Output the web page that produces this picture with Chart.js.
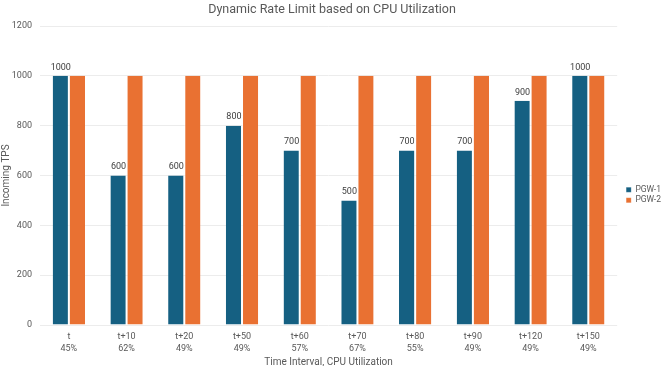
<!DOCTYPE html>
<html>
<head>
<meta charset="utf-8">
<script src="https://cdn.jsdelivr.net/npm/chart.js@4/dist/chart.umd.min.js"></script>
<style>
  html, body { margin: 0; padding: 0; background: #fff; }
  #wrap { width: 664px; height: 366px; position: relative; }
</style>
</head>
<body>
<div id="wrap"><canvas id="rateChart"></canvas></div>
<script>
// --- datos ---
const intervals = ['t', 't+10', 't+20', 't+50', 't+60', 't+70', 't+80', 't+90', 't+120', 't+150'];
const cpuUsage = ['45%', '62%', '49%', '49%', '57%', '67%', '55%', '49%', '49%', '49%'];
const pgw1 = [1000, 600, 600, 800, 700, 500, 700, 700, 900, 1000];
const pgw2 = [1000, 1000, 1000, 1000, 1000, 1000, 1000, 1000, 1000, 1000];
const yTicks = [0, 200, 400, 600, 800, 1000, 1200];

const labels = intervals.map((t, i) => [t, cpuUsage[i]]);
const fontFamily = 'Roboto, "Open Sans", sans-serif';

// etiquetas encima de las barras de PGW-1
const valueLabels = {
    id: 'valueLabels',
    afterDatasetsDraw(chart) {
        const ctx = chart.ctx;
        const meta = chart.getDatasetMeta(0);
        ctx.save();
        ctx.font = '9px ' + fontFamily;
        ctx.fillStyle = '#404040';
        ctx.textAlign = 'center';
        ctx.textBaseline = 'bottom';
        meta.data.forEach((bar, i) => {
            ctx.fillText(String(pgw1[i]), bar.x, bar.y - 4);
        });
        ctx.restore();
    }
};

// mover la leyenda a la derecha y un poco hacia abajo, como en el original
const legendShift = {
    id: 'legendShift',
    afterLayout(chart) {
        const lg = chart.legend;
        if (lg) {
            lg.left += 7; lg.right += 7;
            lg.top += 12; lg.bottom += 12;
        }
    }
};

new Chart(document.getElementById('rateChart'), {
    type: 'bar',
    data: {
        labels: labels,
        datasets: [{
            label: 'PGW-1',
            data: pgw1,
            backgroundColor: '#156082',
            borderColor: 'rgba(255,255,255,0.7)',
            borderWidth: { right: 1, left: 0, top: 0, bottom: 0 },
            borderSkipped: false
        }, {
            label: 'PGW-2',
            data: pgw2,
            backgroundColor: '#E97132',
            borderColor: 'rgba(255,255,255,0.7)',
            borderWidth: { left: 1, right: 0, top: 0, bottom: 0 },
            borderSkipped: false
        }]
    },
    options: {
        responsive: true,
        maintainAspectRatio: false,
        animation: false,
        layout: { padding: { top: 0, right: 0, bottom: 0, left: 0 } },
        categoryPercentage: 0.56,
        barPercentage: 1,
        plugins: {
            title: {
                display: true,
                text: 'Dynamic Rate Limit based on CPU Utilization',
                color: '#595959',
                font: { family: fontFamily, size: 12.5, weight: 'normal' },
                padding: { top: 2, bottom: 9 }
            },
            legend: {
                position: 'right',
                align: 'center',
                labels: {
                    boxWidth: 5,
                    boxHeight: 5,
                    padding: 2,
                    color: '#595959',
                    font: { family: fontFamily, size: 8.5 }
                }
            },
            tooltip: { enabled: false }
        },
        scales: {
            x: {
                grid: { display: false, drawTicks: false },
                border: { display: false },
                ticks: {
                    color: '#595959',
                    font: { family: fontFamily, size: 9, lineHeight: 1.3 },
                    maxRotation: 0,
                    autoSkip: false,
                    padding: 6
                },
                title: {
                    display: true,
                    text: 'Time Interval, CPU Utilization',
                    color: '#595959',
                    font: { family: fontFamily, size: 10 },
                    padding: { top: 0, bottom: -2 }
                },
                afterFit(scale) { scale.height = 41; }
            },
            y: {
                min: 0,
                max: 1200,
                afterBuildTicks(scale) { scale.ticks = yTicks.map(v => ({ value: v })); },
                grid: { color: '#ececec', drawTicks: false },
                border: { display: false },
                ticks: {
                    color: '#595959',
                    font: { family: fontFamily, size: 9 },
                    padding: 8,
                    callback: v => String(v)
                },
                title: {
                    display: true,
                    text: 'Incoming TPS',
                    color: '#595959',
                    font: { family: fontFamily, size: 10 },
                    padding: { top: 0, bottom: 2 }
                },
                afterFit(scale) { scale.width = 40; }
            }
        }
    },
    plugins: [valueLabels, legendShift]
});
</script>
</body>
</html>
